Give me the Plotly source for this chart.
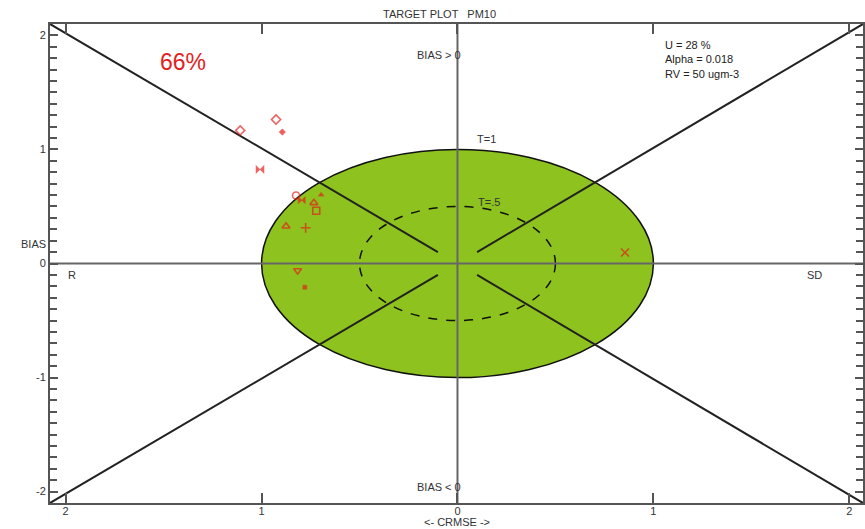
import plotly.graph_objects as go

# ---- data ----
model_x = [-1.109, -0.926, -0.894, -1.008, -0.824, -0.795, -0.696, -0.733, -0.721, -0.875, -0.775, -0.816, -0.779, 0.855]
model_y = [1.167, 1.263, 1.152, 0.825, 0.596, 0.555, 0.602, 0.532, 0.462, 0.327, 0.313, -0.061, -0.208, 0.096]
model_symbols = ["diamond-open", "diamond-open", "diamond", "bowtie", "circle-open", "bowtie",
                 "triangle-up", "triangle-up-open", "square-open", "triangle-up-open",
                 "cross-thin-open", "triangle-down-open", "square", "x-thin-open"]
model_sizes = [7, 7, 5, 8, 7, 7, 5, 7, 7, 7, 7, 7, 4, 8]

tick_vals = [-2, -1, 0, 1, 2]
x_tick_text = ["2", "1", "0", "1", "2"]
y_tick_text = ["-2", "-1", "0", "1", "2"]

target_radii = [1.0, 0.5]
x_range = [-2.08, 2.07]
y_range = [-2.1, 2.1]
diag_inner = 0.1

info_lines = ["U = 28 %", "Alpha = 0.018", "RV = 50 ugm-3"]
score_text = "66%"

RED = "#e3211c"
GREEN = "#8dc21f"
FONT = "Liberation Sans Narrow, Arial Narrow, Liberation Sans, Arial"
TXT = "#333333"

fig = go.Figure()

marker_lines = [1.6 if s.endswith("open") else 0.5 for s in model_symbols]
fig.add_trace(go.Scatter(
    x=model_x, y=model_y, mode="markers",
    marker=dict(symbol=model_symbols, size=model_sizes, color=RED,
                line=dict(color=RED, width=marker_lines)),
    showlegend=False, hoverinfo="skip"))

shapes = []
# outer target circle (T=1) filled
shapes.append(dict(type="circle", xref="x", yref="y", x0=-target_radii[0], x1=target_radii[0],
                   y0=-target_radii[0], y1=target_radii[0], fillcolor=GREEN,
                   line=dict(color="#111111", width=1.5), layer="below"))
# inner dashed circle (T=.5)
shapes.append(dict(type="circle", xref="x", yref="y", x0=-target_radii[1], x1=target_radii[1],
                   y0=-target_radii[1], y1=target_radii[1],
                   line=dict(color="#111111", width=1.5, dash="dash"), layer="below"))
# diagonals from corners to near the centre
for sx in (-1, 1):
    for sy in (-1, 1):
        cx = x_range[1] if sx > 0 else x_range[0]
        cy = y_range[1] if sy > 0 else y_range[0]
        shapes.append(dict(type="line", xref="x", yref="y", x0=cx, y0=cy,
                           x1=sx * diag_inner, y1=sy * diag_inner,
                           line=dict(color="#222222", width=2), layer="below"))
# centre axes
shapes.append(dict(type="line", xref="x", yref="y", x0=x_range[0], x1=x_range[1], y0=0, y1=0,
                   line=dict(color="#666666", width=2), layer="below"))
shapes.append(dict(type="line", xref="x", yref="y", x0=0, x1=0, y0=y_range[0], y1=y_range[1],
                   line=dict(color="#666666", width=2), layer="below"))

f = dict(family=FONT, size=11, color=TXT)
annotations = [
    dict(text="TARGET PLOT   PM10", xref="x", yref="paper", x=-0.09, y=1, yanchor="bottom",
         yshift=2, showarrow=False, font=f),
    dict(text="BIAS > 0", xref="x", yref="y", x=0.03, y=1.825, xanchor="right", showarrow=False, font=f),
    dict(text="BIAS < 0", xref="x", yref="y", x=0.03, y=-1.956, xanchor="right", showarrow=False, font=f),
    dict(text="T=1", xref="x", yref="y", x=0.15, y=1.09, showarrow=False, font=f),
    dict(text="T=.5", xref="x", yref="y", x=0.16, y=0.535, showarrow=False, font=f),
    dict(text="R", xref="x", yref="y", x=-1.967, y=-0.105, showarrow=False, font=f),
    dict(text="SD", xref="x", yref="y", x=1.82, y=-0.105, showarrow=False, font=f),
    dict(text="BIAS", xref="paper", yref="y", x=-0.038, y=0.167, showarrow=False, font=f),
    dict(text="<br>".join(info_lines), xref="x", yref="y", x=1.05, y=1.99, xanchor="left",
         yanchor="top", align="left", showarrow=False, font=dict(family=FONT, size=11, color="#222222")),
    dict(text=score_text, xref="x", yref="y", x=-1.40, y=1.763, showarrow=False,
         font=dict(family="Liberation Sans, Arial", size=23, color=RED)),
    dict(text="<- CRMSE ->", xref="x", yref="paper", x=0, y=0, yanchor="middle", yshift=-19,
         showarrow=False, font=f),
]

fig.update_layout(
    width=865, height=529,
    margin=dict(l=50, r=0, t=24, b=26),
    paper_bgcolor="white", plot_bgcolor="white",
    shapes=shapes, annotations=annotations,
    xaxis=dict(range=x_range, tickvals=tick_vals, ticktext=x_tick_text, ticks="inside", ticklen=10,
               tickcolor="#555555", tickwidth=1.5, showgrid=False, zeroline=False, showline=True,
               linecolor="#555555", linewidth=2, mirror="ticks", tickfont=f, ticklabelstandoff=-3,
               fixedrange=True),
    yaxis=dict(range=y_range, tickvals=tick_vals, ticktext=y_tick_text, ticks="inside", ticklen=8,
               tickcolor="#555555", tickwidth=1.5, showgrid=False, zeroline=False, showline=True,
               linecolor="#555555", linewidth=2, mirror="ticks", tickfont=f,
               minor=dict(dtick=0.1, ticks="inside", ticklen=7, tickcolor="#555555", showgrid=False),
               fixedrange=True),
)

fig.write_html("out.html")
